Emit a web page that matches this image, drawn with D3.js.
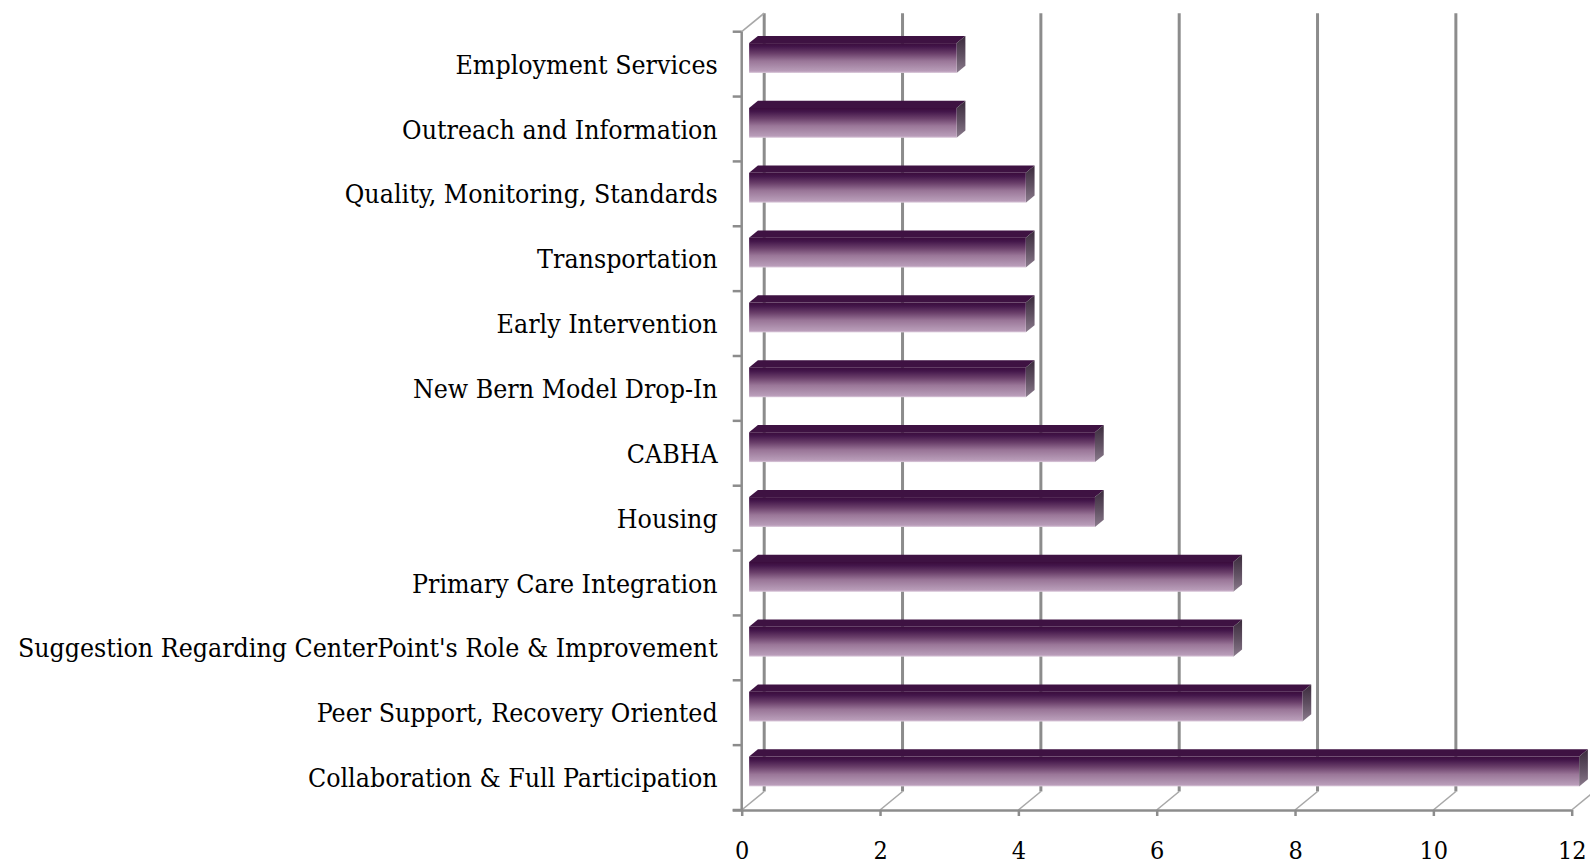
<!DOCTYPE html>
<html>
<head>
<meta charset="utf-8">
<script src="https://cdn.jsdelivr.net/npm/d3@7"></script>
<style>
  html, body { margin: 0; padding: 0; background: #fff; }
  svg { display: block; }
  text { font-family: "DejaVu Serif Condensed", "DejaVu Serif", serif; font-stretch: condensed; fill: #000; }
</style>
</head>
<body>
<svg id="chart" width="1590" height="865"></svg>
<script>
// ---- data ----
const categories = [
  "Employment Services",
  "Outreach and Information",
  "Quality, Monitoring, Standards",
  "Transportation",
  "Early Intervention",
  "New Bern Model Drop-In",
  "CABHA",
  "Housing",
  "Primary Care Integration",
  "Suggestion Regarding CenterPoint's Role & Improvement",
  "Peer Support, Recovery Oriented",
  "Collaboration & Full Participation"
];
const values = [3, 3, 4, 4, 4, 4, 5, 5, 7, 7, 8, 12];
const xTicks = [0, 2, 4, 6, 8, 10, 12];

// ---- layout ----
const svg = d3.select("#chart");
const plotLeft = 741.7, plotRight = 1571.7, plotTop = 31.7, plotBottom = 810;
const depthX = 22.5, depthY = -18.5;       // 3D depth offset of back wall
const barFront = 0.33, barBack = 0.72;     // bar position along depth
const gridColor = "#8c8c8c";
const fontFam = "'DejaVu Serif Condensed', 'DejaVu Serif', serif";

const x = d3.scaleLinear().domain([0, 12]).range([plotLeft, plotRight]);
const y = d3.scaleBand().domain(categories).range([plotTop, plotBottom]).padding(0);

const defs = svg.append("defs");
const gFront = defs.append("linearGradient").attr("id", "gFront")
  .attr("x1", 0).attr("y1", 0).attr("x2", 0).attr("y2", 1);
[[0, "#3a0c3c"], [0.12, "#43164a"], [0.35, "#6a3f6a"], [0.6, "#9a7698"], [0.85, "#b093b0"], [0.94, "#b99cb9"], [1, "#dccbdc"]]
  .forEach(([o, c]) => gFront.append("stop").attr("offset", o).attr("stop-color", c));
const gSide = defs.append("linearGradient").attr("id", "gSide")
  .attr("x1", 0).attr("y1", 0).attr("x2", 0).attr("y2", 1);
[[0, "#3a2a3c"], [0.5, "#5e4e60"], [1, "#8a7a8c"]]
  .forEach(([o, c]) => gSide.append("stop").attr("offset", o).attr("stop-color", c));

// ---- back wall vertical gridlines ----
const grid = svg.append("g");
grid.selectAll("line.grid").data(xTicks).join("line")
  .attr("x1", d => x(d) + depthX).attr("x2", d => x(d) + depthX)
  .attr("y1", plotTop + depthY).attr("y2", plotBottom + depthY)
  .attr("stroke", gridColor).attr("stroke-width", 3);
// floor depth lines
grid.selectAll("line.floor").data(xTicks).join("line")
  .attr("x1", d => x(d)).attr("x2", d => x(d) + depthX)
  .attr("y1", plotBottom).attr("y2", plotBottom + depthY)
  .attr("stroke", "#a8a8a8").attr("stroke-width", 1.6);
// left wall top edge
grid.append("line")
  .attr("x1", plotLeft).attr("y1", plotTop)
  .attr("x2", plotLeft + depthX).attr("y2", plotTop + depthY)
  .attr("stroke", "#a8a8a8").attr("stroke-width", 1.6);

// ---- bars ----
const bh = y.bandwidth() * 0.46;
const fdx = barFront * depthX, fdy = barFront * depthY;
const ddx = (barBack - barFront) * depthX, ddy = (barBack - barFront) * depthY;
const bars = svg.append("g").selectAll("g").data(categories.map((c, i) => ({c, v: values[i]}))).join("g");
bars.each(function(d) {
  const g = d3.select(this);
  const x0 = x(0) + fdx, x1 = x(d.v) + fdx;
  const top = y(d.c) + y.bandwidth() / 2 + fdy - bh / 2, bot = top + bh;
  g.append("path")
    .attr("d", `M${x0},${top}L${x1},${top}L${x1 + ddx},${top + ddy}L${x0 + ddx},${top + ddy}Z`)
    .attr("fill", "#3e1242");
  g.append("path")
    .attr("d", `M${x1},${top}L${x1 + ddx},${top + ddy}L${x1 + ddx},${bot + ddy}L${x1},${bot}Z`)
    .attr("fill", "url(#gSide)");
  g.append("rect")
    .attr("x", x0).attr("y", top).attr("width", x1 - x0).attr("height", bh)
    .attr("fill", "url(#gFront)");
});

// ---- front axes ----
const xAxis = d3.axisBottom(x).tickValues(xTicks).tickSize(6).tickPadding(25).tickSizeOuter(0);
const xg = svg.append("g").attr("transform", `translate(0,${plotBottom})`).call(xAxis);
xg.select(".domain").attr("stroke", gridColor).attr("stroke-width", 2.5)
  .attr("d", `M${plotLeft - 9},0.5H${plotRight}`);
xg.selectAll(".tick line").attr("stroke", gridColor).attr("stroke-width", 2.5);
xg.selectAll(".tick text").attr("font-size", 25).attr("fill", "#000")
  .style("font-family", fontFam).style("font-stretch", "condensed");

const yAxis = d3.axisLeft(y).tickSize(0).tickPadding(24);
const yg = svg.append("g").attr("transform", `translate(${plotLeft},0)`).call(yAxis);
yg.select(".domain").attr("stroke", gridColor).attr("stroke-width", 2.5)
  .attr("d", `M0,${plotTop}V${plotBottom}`);
yg.selectAll(".tick text").attr("fill", "#000")
  .style("font-family", fontFam).style("font-stretch", "condensed");
const bounds = categories.map(c => y(c)).concat([plotBottom]);
yg.selectAll("line.bound").data(bounds).join("line").attr("class", "bound")
  .attr("x1", -9).attr("x2", 0).attr("y1", d => d).attr("y2", d => d)
  .attr("stroke", gridColor).attr("stroke-width", 2.5);

// fit label font so the longest label spans like the reference
const labels = yg.selectAll(".tick text");
labels.attr("font-size", 24);
let maxW = 0;
labels.each(function() { maxW = Math.max(maxW, this.getComputedTextLength()); });
const fs = 24 * 700 / maxW;
labels.attr("font-size", fs).attr("dy", "0.36em");
</script>
</body>
</html>
